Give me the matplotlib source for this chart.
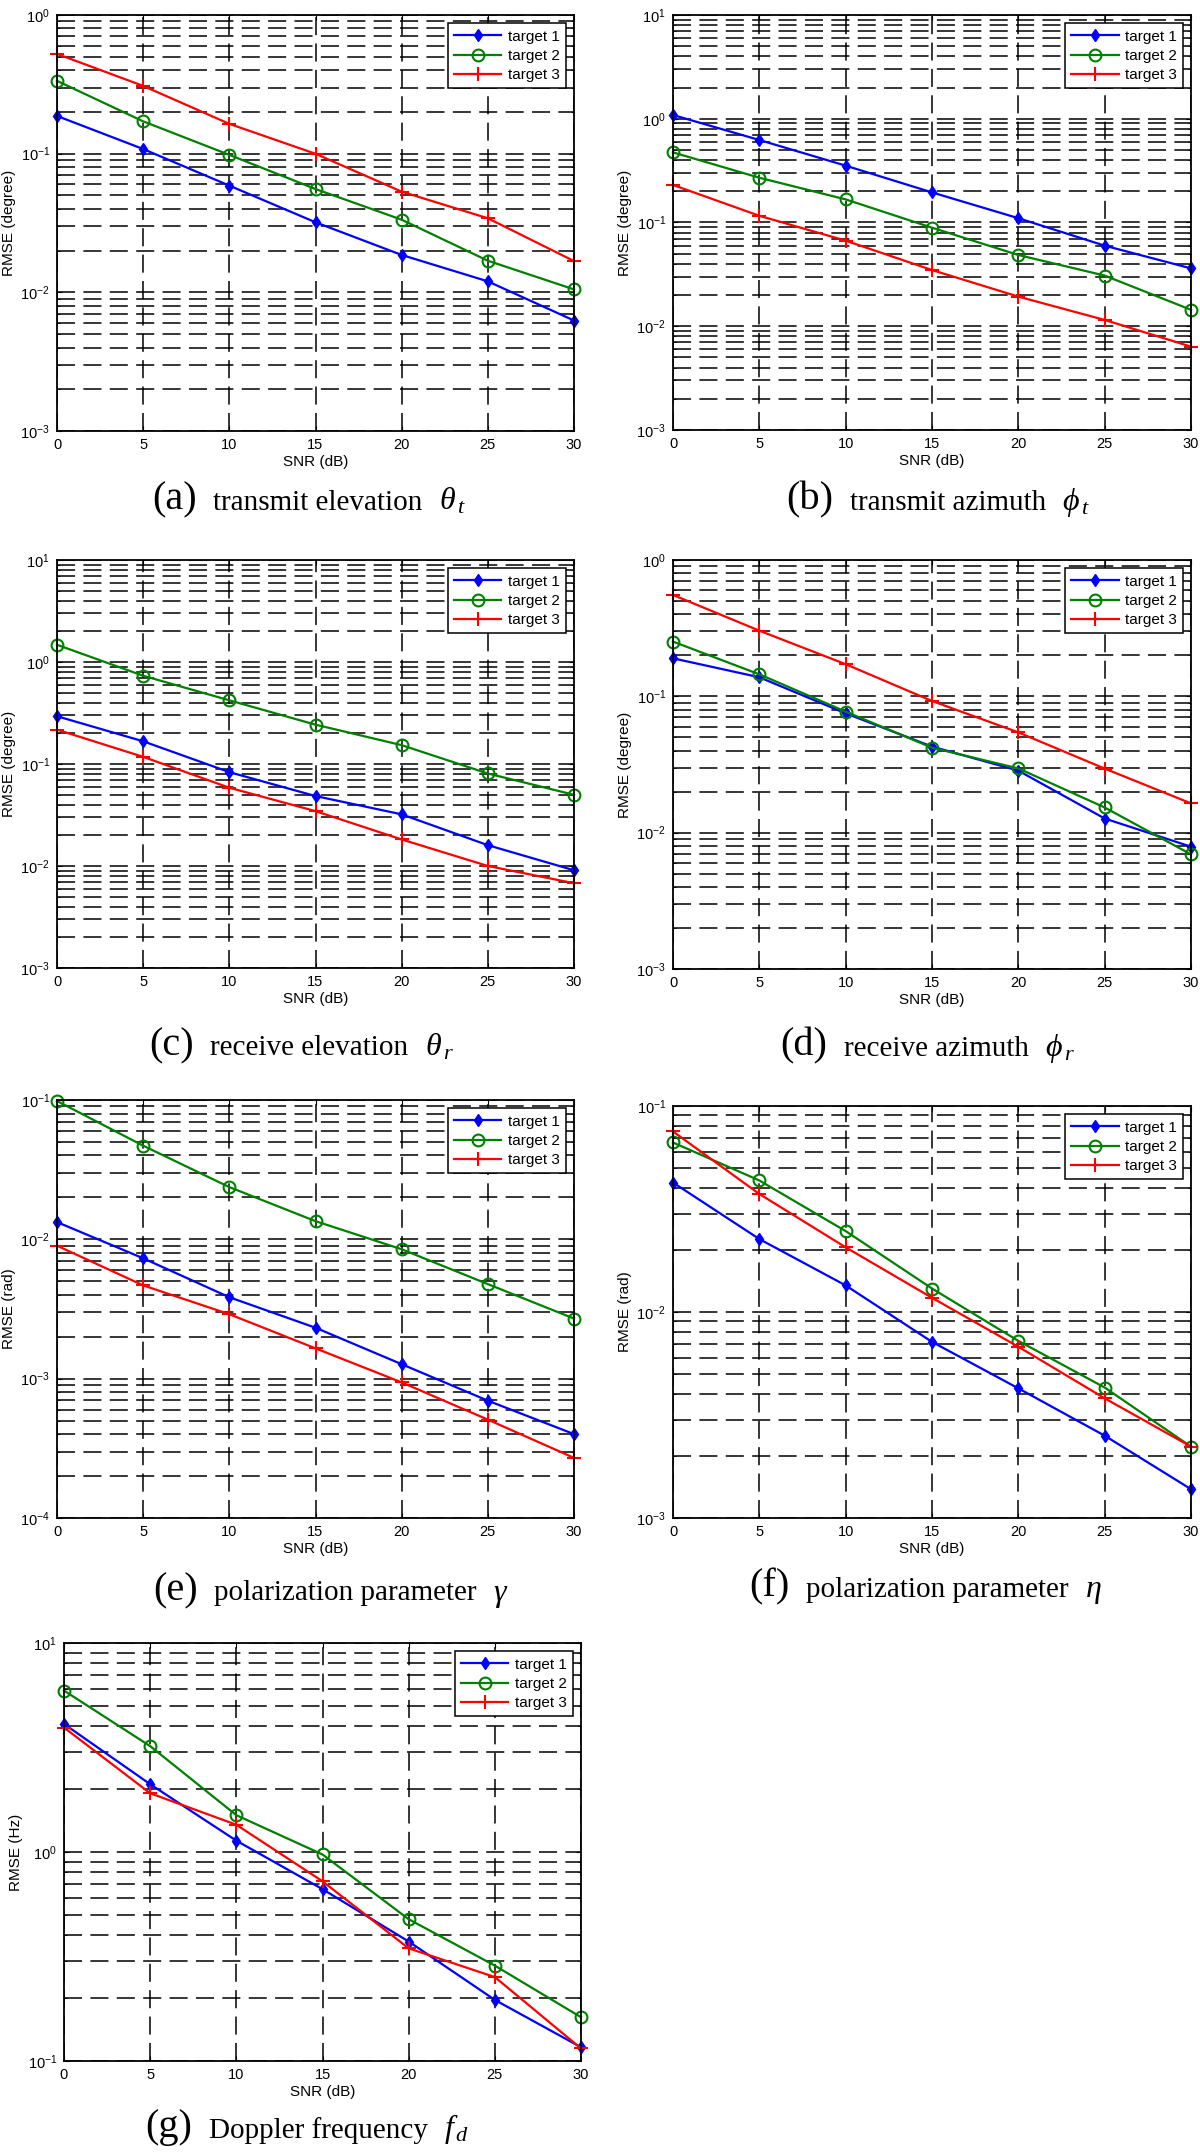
import matplotlib
matplotlib.use('Agg')
from matplotlib import pyplot as plt
from matplotlib.offsetbox import TextArea, HPacker, AnnotationBbox
from matplotlib.ticker import LogLocator, NullFormatter
import numpy as np

plt.rcParams['font.family'] = ['Liberation Sans', 'DejaVu Sans']
plt.rcParams['mathtext.fontset'] = 'custom'
plt.rcParams['mathtext.rm'] = 'Liberation Serif'
plt.rcParams['mathtext.it'] = 'Liberation Serif:italic'
plt.rcParams['lines.scale_dashes'] = False

snr = [0, 5, 10, 15, 20, 25, 30]

# (a) transmit elevation
a_t1 = [0.187, 0.108, 0.0588, 0.032, 0.0186, 0.0120, 0.00626]
a_t2 = [0.335, 0.171, 0.098, 0.0556, 0.0334, 0.0169, 0.0105]
a_t3 = [0.524, 0.308, 0.164, 0.0998, 0.0532, 0.0342, 0.0168]
# (b) transmit azimuth
b_t1 = [1.087, 0.624, 0.353, 0.195, 0.110, 0.0598, 0.0361]
b_t2 = [0.474, 0.270, 0.167, 0.0891, 0.0486, 0.0308, 0.0144]
b_t3 = [0.230, 0.116, 0.0668, 0.0348, 0.0193, 0.0115, 0.00636]
# (c) receive elevation
c_t1 = [0.294, 0.167, 0.0832, 0.0485, 0.0321, 0.0160, 0.00908]
c_t2 = [1.475, 0.733, 0.421, 0.243, 0.153, 0.0807, 0.0499]
c_t3 = [0.217, 0.1175, 0.0585, 0.0345, 0.0182, 0.0100, 0.00678]
# (d) receive azimuth
d_t1 = [0.190, 0.138, 0.0750, 0.0428, 0.0285, 0.0127, 0.00789]
d_t2 = [0.252, 0.145, 0.0772, 0.0420, 0.0296, 0.0153, 0.00693]
d_t3 = [0.554, 0.303, 0.172, 0.0924, 0.0544, 0.0295, 0.0164]
# (e) polarization gamma
e_t1 = [0.0133, 0.00731, 0.00384, 0.00232, 0.00127, 0.000695, 0.000400]
e_t2 = [0.0984, 0.0470, 0.0237, 0.0135, 0.00849, 0.00477, 0.00270]
e_t3 = [0.0090, 0.00467, 0.00290, 0.00165, 0.00094, 0.000508, 0.000270]
# (f) polarization eta
f_t1 = [0.0425, 0.0226, 0.01346, 0.00716, 0.00426, 0.00251, 0.00138]
f_t2 = [0.0665, 0.0435, 0.0247, 0.0130, 0.00724, 0.0043, 0.00222]
f_t3 = [0.0752, 0.0374, 0.0206, 0.01172, 0.00678, 0.00381, 0.00222]
# (g) doppler
g_t1 = [4.10, 2.11, 1.133, 0.664, 0.373, 0.196, 0.1164]
g_t2 = [5.92, 3.21, 1.50, 0.973, 0.477, 0.286, 0.162]
g_t3 = [3.94, 1.91, 1.35, 0.724, 0.346, 0.252, 0.1148]

W, H = 1200, 2154
fig = plt.figure(figsize=(W / 100, H / 100), dpi=100)


def box(l, t, r, b):
    return [l / W, 1 - b / H, (r - l) / W, (b - t) / H]


def panel(rect, t1, t2, t3, ylo, yhi, ylabel):
    ax = fig.add_axes(box(*rect))
    ax.semilogy(snr, t1, '-d', color='#0000ff', lw=1.6, ms=6, label='target 1', clip_on=False)
    ax.semilogy(snr, t2, '-o', color='#008000', lw=1.6, ms=8.5, mfc='none', mew=1.5,
                label='target 2', clip_on=False)
    ax.semilogy(snr, t3, '-+', color='#ff0000', lw=1.6, ms=10, mew=1.5, label='target 3',
                clip_on=False)
    ax.set_xlim(0, 30)
    ax.set_ylim(ylo, yhi)
    ax.set_xticks(range(0, 31, 5))
    ax.yaxis.set_major_locator(LogLocator(base=10, numticks=20))
    ax.yaxis.set_minor_locator(LogLocator(base=10, subs=np.arange(2, 10), numticks=20))
    ax.yaxis.set_minor_formatter(NullFormatter())
    gl = dict(color='k', ls=(0, (13, 6)), lw=1.1)
    ax.grid(True, which='both', axis='y', **gl)
    ax.grid(True, which='major', axis='x', **gl)
    ax.tick_params(which='both', direction='in', top=True, right=True, labelsize=10.5, pad=5)
    for s in ax.spines.values():
        s.set_linewidth(1.3)
    ax.set_xlabel('SNR (dB)', fontsize=11, labelpad=2)
    ax.set_ylabel(ylabel, fontsize=11)
    ax.yaxis.set_label_coords(-0.08, 0.5)
    leg = ax.legend(loc='upper right', fontsize=11, fancybox=False, edgecolor='k',
                    framealpha=1, borderaxespad=0.55, handlelength=3.1, handletextpad=0.4,
                    labelspacing=0.35, borderpad=0.4)
    leg.get_frame().set_linewidth(1.1)
    return ax


def title(ax, tag, desc, sym, x, y):
    parts = [TextArea(tag, textprops=dict(family='Liberation Serif', size=29)),
             TextArea(desc, textprops=dict(family='Liberation Serif', size=21)),
             TextArea(sym, textprops=dict(size=23))]
    pack = HPacker(children=parts, align='baseline', pad=0, sep=12)
    ab = AnnotationBbox(pack, (x / W, 1 - y / H), xycoords='figure fraction',
                        box_alignment=(0, 0.5), frameon=False)
    ax.add_artist(ab)


ax = panel((57, 15, 574, 431), a_t1, a_t2, a_t3, 1e-3, 1e0, 'RMSE (degree)')
title(ax, '(a)', 'transmit elevation', r'$\theta_{\,t}$', 152, 500)
ax = panel((673, 15, 1191, 430), b_t1, b_t2, b_t3, 1e-3, 1e1, 'RMSE (degree)')
title(ax, '(b)', 'transmit azimuth', r'$\phi_{\,t}$', 786, 500)
ax = panel((57, 560, 574, 968), c_t1, c_t2, c_t3, 1e-3, 1e1, 'RMSE (degree)')
title(ax, '(c)', 'receive elevation', r'$\theta_{\,r}$', 149, 1046)
ax = panel((673, 560, 1191, 969), d_t1, d_t2, d_t3, 1e-3, 1e0, 'RMSE (degree)')
title(ax, '(d)', 'receive azimuth', r'$\phi_{\,r}$', 780, 1046)
ax = panel((57, 1100, 574, 1518), e_t1, e_t2, e_t3, 1e-4, 1e-1, 'RMSE (rad)')
title(ax, '(e)', 'polarization parameter', r'$\gamma$', 153, 1591)
ax = panel((673, 1106, 1191, 1518), f_t1, f_t2, f_t3, 1e-3, 1e-1, 'RMSE (rad)')
title(ax, '(f)', 'polarization parameter', r'$\eta$', 749, 1587)
ax = panel((64, 1643, 581, 2061), g_t1, g_t2, g_t3, 1e-1, 1e1, 'RMSE (Hz)')
title(ax, '(g)', 'Doppler frequency', r'$f_{\,d}$', 145, 2128)

fig.savefig('out.png', dpi=100)
